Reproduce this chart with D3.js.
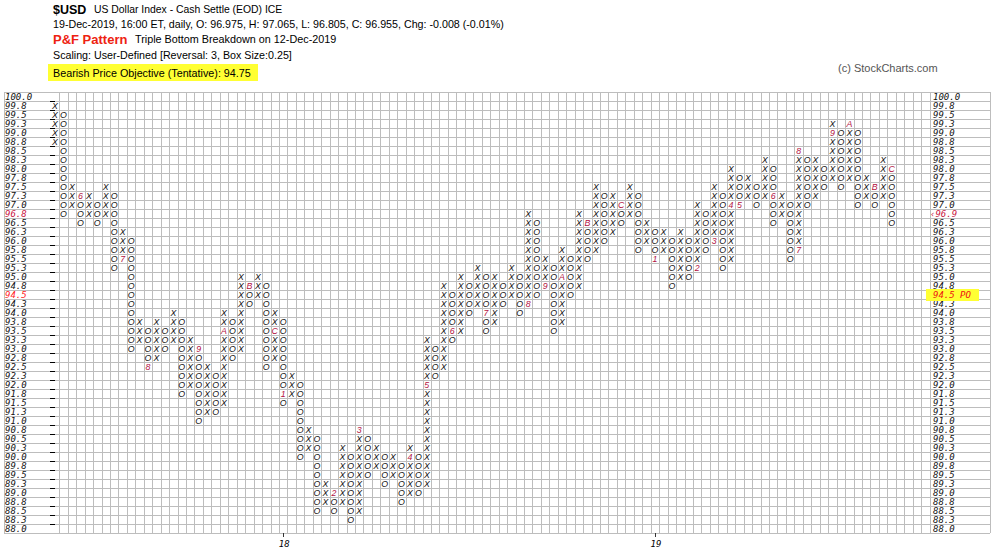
<!DOCTYPE html>
<html><head><meta charset="utf-8">
<script src="https://cdn.jsdelivr.net/npm/d3@7"></script>
<style>
body{margin:0;background:#fff;}
svg{display:block;font-family:Arial,"Liberation Sans",sans-serif;}
</style></head><body>
<svg id="c" width="993" height="550"></svg>
<script>
// ---------- data ----------
const colTypes = "XOXOXOXOXOXOXOXOXOXOXOXOXOXOXOXOXOXOXOXOXOXOXOXOXOXOXOXOXOXOXOXOXOXOXOXOXOXOXOXOXOXOXOXOXOXOXOXOXOXO".split("");
const colLow  = [98.75,96.75,97.0,96.5,96.75,96.5,96.75,95.25,95.5,93.0,
                 93.25,92.5,92.75,93.0,93.25,91.75,92.0,91.0,91.25,91.25,
                 91.5,92.75,93.0,94.25,94.5,92.5,92.75,91.5,91.75,90.0,
                 90.25,88.5,88.75,88.5,88.75,88.25,88.5,89.5,89.75,89.25,
                 89.5,88.75,89.0,89.0,89.25,92.25,92.5,93.25,93.5,94.0,
                 94.25,93.5,93.75,94.25,94.5,94.0,94.25,94.5,94.75,93.5,
                 93.75,94.5,94.75,95.5,95.75,96.0,96.25,96.5,96.75,95.75,
                 96.0,95.5,95.75,94.75,95.0,95.0,95.25,95.75,96.0,95.25,
                 95.5,97.0,97.25,97.0,97.25,96.5,96.75,95.5,95.75,97.0,
                 97.25,97.5,97.75,97.5,97.75,97.0,97.25,97.0,97.25,96.5];
const colHigh = [99.75,99.5,97.5,97.25,97.25,97.0,97.5,97.25,96.25,96.0,
                 93.75,93.5,93.75,93.5,94.0,93.75,93.25,93.0,92.5,92.25,
                 94.0,93.75,95.0,94.75,95.0,94.75,94.0,93.75,92.25,92.0,
                 90.75,90.5,89.25,89.0,90.25,90.0,90.75,90.5,90.25,90.0,
                 90.0,89.75,90.25,90.0,93.25,93.0,94.75,94.5,95.0,94.75,
                 95.25,95.0,95.0,94.75,95.25,95.0,96.75,96.5,95.5,95.25,
                 95.75,95.5,96.75,96.5,97.5,97.25,97.25,97.0,97.5,97.25,
                 96.5,96.25,96.25,96.0,96.25,96.0,97.0,96.75,97.5,97.25,
                 98.0,97.75,97.75,97.5,98.25,98.0,97.25,97.0,98.5,98.25,
                 98.25,98.0,99.25,99.0,99.25,99.0,97.75,97.5,98.25,98.0];
const markCols   = [3,8,11,17,20,23,26,27,33,36,42,44,47,51,56,58,60,63,67,71,76,78,80,81,85,88,88,92,94,97,99];
const markPrices = [97.25,95.5,92.5,93.0,93.5,94.75,93.5,91.75,89.0,90.75,90.0,92.0,93.5,94.0,94.25,94.75,95.0,96.5,97.0,95.5,95.25,96.0,97.0,97.0,97.25,95.75,98.5,99.0,99.25,97.5,98.0];
const markText   = ["6","7","8","9","A","B","C","1","2","3","4","5","6","7","8","9","A","B","C","1","2","3","4","5","6","7","8","9","A","B","C"];
const yLabels = ["100.0","99.8","99.5","99.3","99.0","98.8","98.5","98.3","98.0","97.8","97.5","97.3","97.0","96.8","96.5","96.3","96.0","95.8","95.5","95.3","95.0","94.8","94.5","94.3","94.0","93.8","93.5","93.3","93.0","92.8","92.5","92.3","92.0","91.8","91.5","91.3","91.0","90.8","90.5","90.3","90.0","89.8","89.5","89.3","89.0","88.8","88.5","88.3","88.0"];
const dateLabels = ["18","19"];
const dateCols = [27,71];
const lastPriceLabel = "96.9", lastPriceRow = 96.75;
const objectiveLabel = "94.5 PO", objectiveRow = 94.5;

// ---------- layout ----------
const svg = d3.select("#c");
const nCols = 104, colW = 8.45, gx0 = 50.8;
const gTop = 92, rowH = 9, nRows = yLabels.length;
const gBottom = gTop + nRows*rowH;
const x = d3.scaleLinear().domain([0,nCols]).range([gx0, gx0 + nCols*colW]);
const y = d3.scaleLinear().domain([100.125, 100.125 - nRows*0.25]).range([gTop, gBottom]);
const gridCol = "#bdbdbd";

// header
const hdr = svg.append("g");
hdr.append("text").attr("x",53).attr("y",13.5).attr("font-size",12.5).attr("font-weight","bold").text("$USD");
hdr.append("text").attr("x",94).attr("y",13).attr("font-size",10.4).text("US Dollar Index - Cash Settle (EOD)  ICE");
hdr.append("text").attr("x",53).attr("y",28).attr("font-size",10.7).text("19-Dec-2019, 16:00 ET, daily, O: 96.975, H: 97.065, L: 96.805, C: 96.955, Chg: -0.008 (-0.01%)");
hdr.append("text").attr("x",53).attr("y",43.5).attr("font-size",13).attr("font-weight","bold").attr("fill","#ee2211").text("P&F Pattern");
hdr.append("text").attr("x",135).attr("y",43).attr("font-size",10.8).text("Triple Bottom Breakdown on 12-Dec-2019");
hdr.append("text").attr("x",53).attr("y",59).attr("font-size",10.7).text("Scaling: User-Defined [Reversal: 3, Box Size:0.25]");
hdr.append("rect").attr("x",48).attr("y",64).attr("width",210).attr("height",17).attr("fill","#ffff33");
hdr.append("text").attr("x",53).attr("y",76.5).attr("font-size",10.75).text("Bearish Price Objective (Tentative): 94.75");
hdr.append("text").attr("x",838).attr("y",72).attr("font-size",11).attr("fill","#555").text("(c) StockCharts.com");

// grid
const g = svg.append("g").attr("shape-rendering","crispEdges");
g.selectAll("line.h").data(d3.range(nRows+1)).join("line")
  .attr("x1",4).attr("x2",990).attr("y1",d=>gTop+d*rowH+0.5).attr("y2",d=>gTop+d*rowH+0.5)
  .attr("stroke",gridCol);
g.selectAll("line.v").data(d3.range(1,nCols+1)).join("line")
  .attr("x1",d=>Math.round(x(d))+0.5).attr("x2",d=>Math.round(x(d))+0.5).attr("y1",gTop).attr("y2",gBottom)
  .attr("stroke",gridCol);
[4,990].forEach(v=>g.append("line").attr("x1",v+0.5).attr("x2",v+0.5).attr("y1",gTop).attr("y2",gBottom).attr("stroke",gridCol));
g.selectAll("line.t").data(d3.range(1,nRows)).join("line")
  .attr("x1",50).attr("x2",55).attr("y1",d=>gTop+d*rowH+0.5).attr("y2",d=>gTop+d*rowH+0.5).attr("stroke","#000");

// axis labels
const labFont = "'DejaVu Sans Mono', monospace";
const rowPrice = i => 100 - i*0.25;
svg.append("g").selectAll("text").data(yLabels).join("text")
  .attr("x",5).attr("y",(d,i)=>y(rowPrice(i))+3.3)
  .attr("font-family",labFont).attr("font-style","italic").attr("font-size",9)
  .attr("fill",(d,i)=>rowPrice(i)===lastPriceRow?"#c8103c":(rowPrice(i)===objectiveRow?"#ff1a1a":"#111"))
  .text(d=>d);
svg.append("g").selectAll("text").data(yLabels).join("text")
  .attr("x",933).attr("y",(d,i)=>y(rowPrice(i))+3.3)
  .attr("font-family",labFont).attr("font-style","italic").attr("font-size",9)
  .attr("fill","#111")
  .text((d,i)=> (rowPrice(i)===lastPriceRow || rowPrice(i)===objectiveRow) ? "" : d);
svg.append("text").attr("x",930).attr("y",y(lastPriceRow)+3.3)
  .attr("font-family",labFont).attr("font-style","italic").attr("font-size",9).attr("fill","#c8103c")
  .text("\u2039"+lastPriceLabel);
svg.append("rect").attr("x",926).attr("y",y(objectiveRow)-5.5).attr("width",53).attr("height",12).attr("fill","#ffff33");
svg.append("text").attr("x",933).attr("y",y(objectiveRow)+3.3)
  .attr("font-family",labFont).attr("font-style","italic").attr("font-size",9).attr("fill","#ee1111")
  .text(objectiveLabel);

// boxes
const boxes = [];
colTypes.forEach((t,c)=>{
  for(let p=colLow[c]; p<=colHigh[c]+1e-9; p+=0.25){
    const mi = markCols.findIndex((mc,k)=>mc===c && Math.abs(markPrices[k]-p)<1e-6);
    boxes.push({c, p, t: mi>=0 ? markText[mi] : t, mark: mi>=0});
  }
});
svg.append("g").selectAll("text").data(boxes).join("text")
  .attr("x",d=>x(d.c+0.5)).attr("y",d=>y(d.p)+3.2).attr("text-anchor","middle")
  .attr("font-style","italic").attr("font-size",8.8)
  .attr("fill",d=>d.mark?"#b3123f":"#111")
  .text(d=>d.t);

// date axis
const da = svg.append("g");
dateCols.forEach((c,i)=>{
  da.append("line").attr("x1",Math.round(x(c+0.5))+0.5).attr("x2",Math.round(x(c+0.5))+0.5).attr("y1",gBottom).attr("y2",gBottom+4).attr("stroke","#333");
  da.append("text").attr("x",x(c+0.5)+1).attr("y",gBottom+14).attr("text-anchor","middle")
    .attr("font-family",labFont).attr("font-style","italic").attr("font-size",9).text(dateLabels[i]);
});
</script>
</body></html>
